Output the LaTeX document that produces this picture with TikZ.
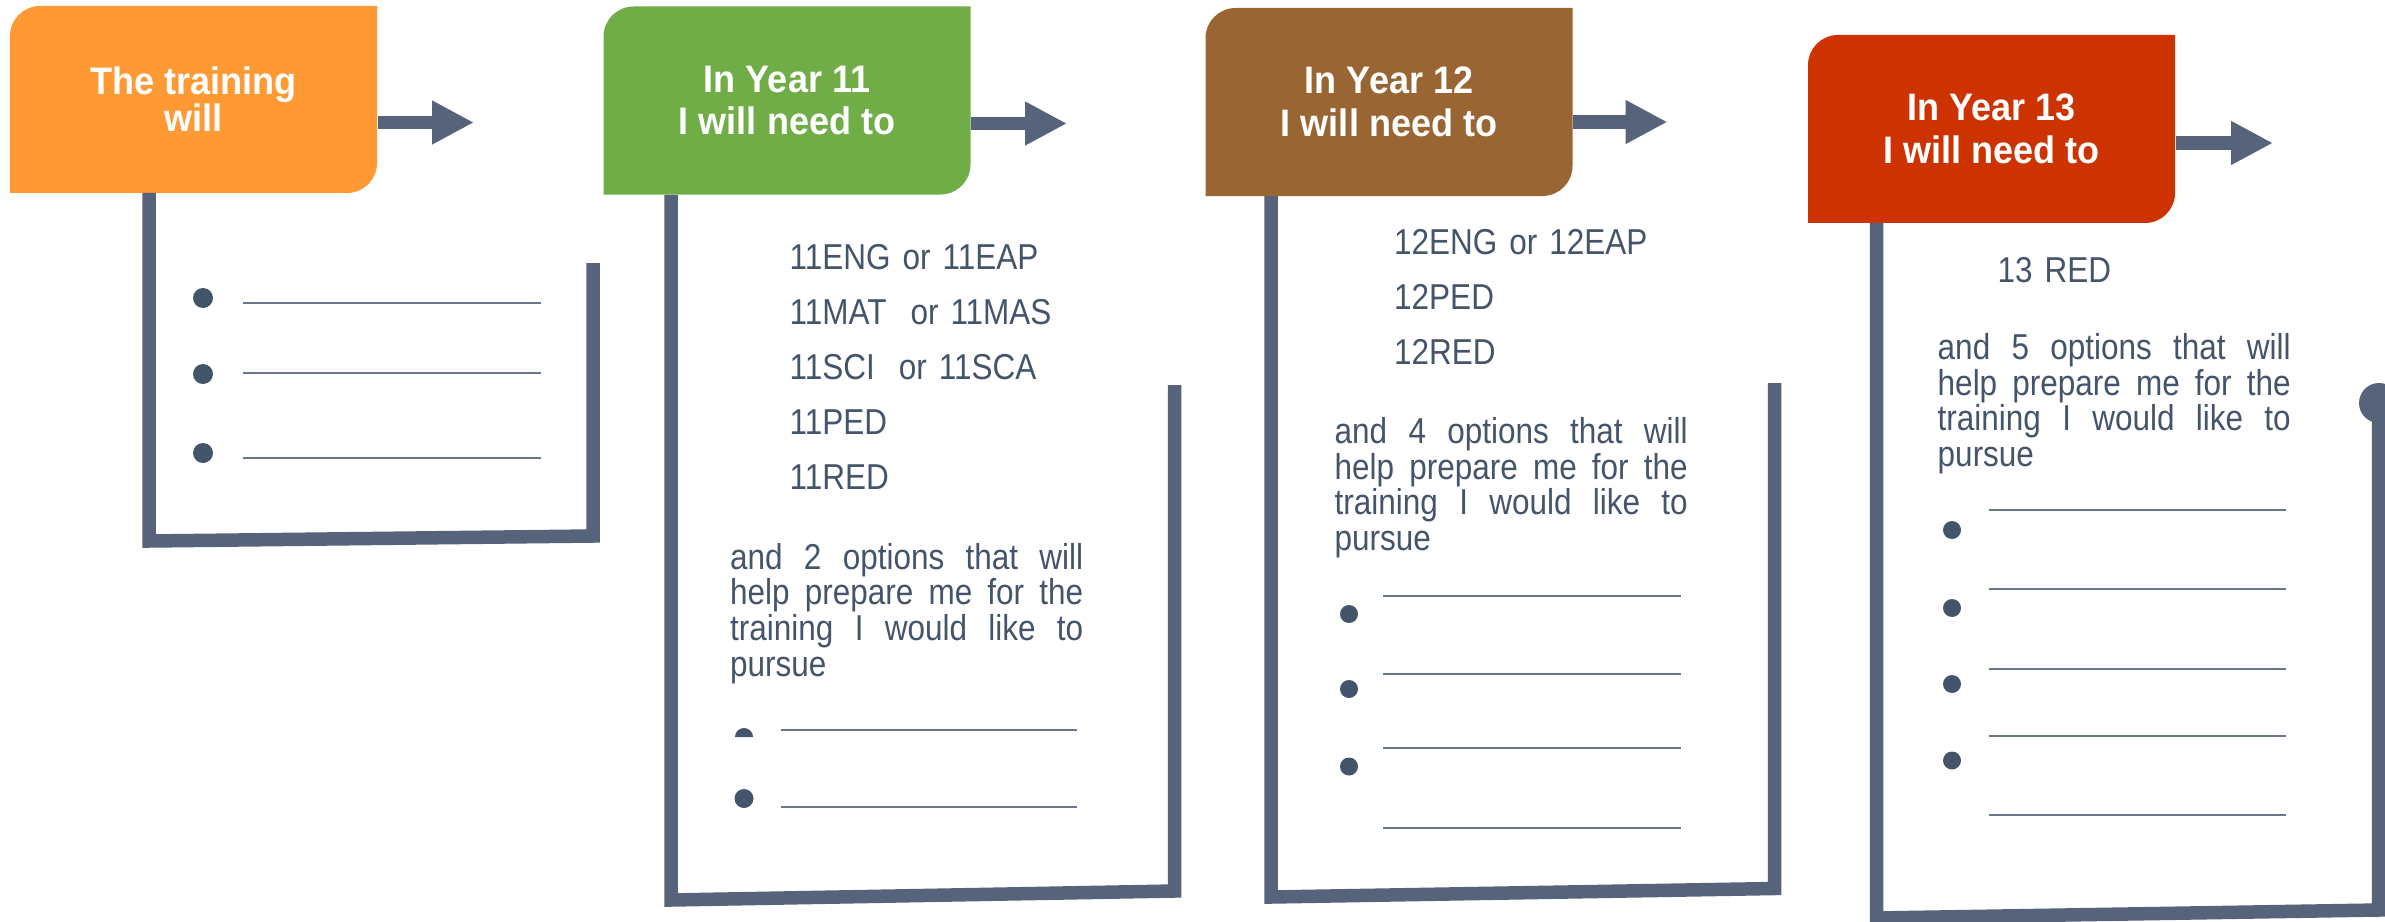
\documentclass[tikz,border=0pt]{standalone}
\usepackage{xcolor}
\usepackage{fontspec}
\setmainfont{Liberation Sans}[FakeStretch=0.875]
\newfontfamily\headfont{Liberation Sans}[FakeStretch=0.94]
\usetikzlibrary{arrows.meta}
\tolerance=10000
\hyphenpenalty=10000

\definecolor{slate}{HTML}{56637A}
\definecolor{ink}{HTML}{44546A}
\definecolor{ruleC}{HTML}{6A768B}
\definecolor{orangeA}{HTML}{FF9933}
\definecolor{greenA}{HTML}{70AD47}
\definecolor{brownA}{HTML}{996633}
\definecolor{redA}{HTML}{CC3300}

\tikzset{
	headbox/.style={rectangle, inner sep=0pt, minimum width=3.67cm, minimum height=1.88cm,
		fill=white, text=white, align=center,
		font=\headfont\bfseries\fontsize{10.9}{12.2}\selectfont,
		path picture={\fill[#1] (path picture bounding box.south west)
			-- ([yshift=-3mm]path picture bounding box.north west)
			arc[start angle=180, end angle=90, radius=3mm]
			-- (path picture bounding box.north east)
			-- ([yshift=3mm]path picture bounding box.south east)
			arc[start angle=0, end angle=-90, radius=3mm] -- cycle;}},
	flow/.style={line width=0.133cm, draw=slate, -{Triangle[length=0.42cm, width=0.41cm]}},
	bracket/.style={line width=0.135cm, draw=slate, line join=miter},
	listtext/.style={inner sep=0pt, anchor=base west, text width=3.6cm, align=left, text=ink,
		font=\fontsize{10.24}{15.65}\selectfont},
	para/.style={inner sep=0pt, anchor=base west, text width=3.53cm, align=justify, text=ink,
		font=\fontsize{10.24}{10.15}\selectfont},
	fillin/.style={line width=0.02cm, draw=ruleC}
}

\begin{document}
\begin{tikzpicture}[x=1.0cm,y=1.0cm]
			\useasboundingbox (0,0) rectangle (23.85,-9.21);
			\clip (0,0) rectangle (23.85,-9.21);
			\node[headbox=orangeA, minimum height=1.87cm, font=\headfont\bfseries\fontsize{10.9}{10.5}\selectfont] (train) at (1.935,-0.995) {The training\\will};
			\node[headbox=greenA] (y11) at (7.87,-1.005) {In Year 11\\I will need to};
			\node[headbox=brownA] (y12) at (13.89,-1.02) {In Year 12\\I will need to};
			\node[headbox=redA] (y13) at (19.915,-1.29) {In Year 13\\I will need to};
			\coordinate (t0) at (4.74,-1.225);
			\coordinate (t11) at (10.67,-1.235);
			\coordinate (t12) at (16.675,-1.22);
			\coordinate (t13) at (22.73,-1.43);
			\draw[flow] (train.east |- t0) -- (t0);
			\draw[flow] (y11.east |- t11) -- (t11);
			\draw[flow] (y12.east |- t12) -- (t12);
			\draw[flow] (y13.east |- t13) -- (t13);
			\draw[bracket] (1.49,-1.93) -- (1.49,-5.41) -- (5.93,-5.36) -- (5.93,-2.63);
			\draw[bracket] (6.71,-1.95) -- (6.71,-9.00) -- (11.745,-8.91) -- (11.745,-3.85);
			\draw[bracket] (12.71,-1.96) -- (12.71,-8.97) -- (17.745,-8.885) -- (17.745,-3.83);
			\draw[bracket] (18.765,-2.23) -- (18.765,-9.18) -- (23.785,-9.10) -- (23.785,-4.03);
			\fill[slate] (23.79,-4.03) circle (0.2);
			\node[listtext] (l11) at (7.89,-2.69) {11ENG or 11EAP\\11MAT\ \ or 11MAS\\11SCI\ \ or 11SCA\\11PED\\11RED};
			\node[listtext] (l12) at (13.935,-2.54) {12ENG or 12EAP\\12PED\\12RED};
			\node[listtext] (l13) at (19.97,-2.82) {13 RED};
			\node[para] (p11) at (7.295,-5.69) {and 2 options that will\linebreak help prepare me for the\linebreak training I would like to\linebreak pursue};
			\node[para] (p12) at (13.34,-4.435) {and 4 options that will\linebreak help prepare me for the\linebreak training I would like to\linebreak pursue};
			\node[para] (p13) at (19.37,-3.595) {and 5 options that will\linebreak help prepare me for the\linebreak training I would like to\linebreak pursue};
			\foreach \y in {2.98,3.74,4.53} \fill[ink] (2.03,-\y) circle (0.1);
			\foreach \y in {3.03,3.73,4.58} \draw[fillin] (2.43,-\y) -- (5.41,-\y);
			\fill[ink] (7.35,-7.37) arc[start angle=180, end angle=0, radius=0.09] -- cycle;
			\fill[ink] (7.44,-7.985) circle (0.095);
			\foreach \y in {7.30,8.065} \draw[fillin] (7.81,-\y) -- (10.77,-\y);
			\foreach \y in {6.14,6.89,7.665} \fill[ink] (13.49,-\y) circle (0.09);
			\foreach \y in {5.96,6.74,7.48,8.28} \draw[fillin] (13.83,-\y) -- (16.81,-\y);
			\foreach \y in {5.30,6.08,6.84,7.605} \fill[ink] (19.52,-\y) circle (0.09);
			\foreach \y in {5.10,5.885,6.685,7.36,8.15} \draw[fillin] (19.885,-\y) -- (22.86,-\y);
			\end{tikzpicture}
\end{document}
